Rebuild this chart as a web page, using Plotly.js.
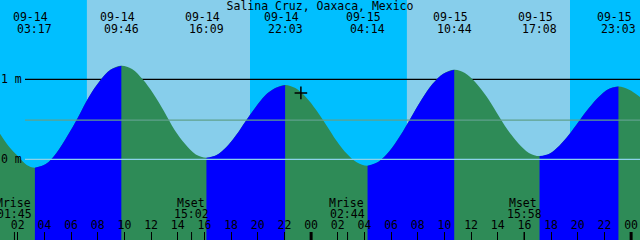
<!DOCTYPE html>
<html>
<head>
<meta charset="utf-8">
<script src="https://cdn.plot.ly/plotly-3.0.1.min.js"></script>
<style>
  html, body { margin: 0; padding: 0; background: #00BFFF; }
  #chart { width: 640px; height: 240px; }
</style>
</head>
<body>
<div id="chart"></div>
<script>
// ---------------- data ----------------
const stationName = "Salina Cruz, Oaxaca, Mexico";

const windowStart = "2024-09-14 00:40";
const windowEnd   = "2024-09-16 00:40";

// high / low tide events (labelled along the top)
const extremeTimes   = ["2024-09-14 03:17", "2024-09-14 09:46", "2024-09-14 16:09", "2024-09-14 22:03",
                        "2024-09-15 04:14", "2024-09-15 10:44", "2024-09-15 17:08", "2024-09-15 23:03"];
const extremeHeights = [-0.105, 1.17, 0.02, 0.93, -0.08, 1.12, 0.04, 0.91];

// tide curve readings (metres)
const curveTimes = [
  "2024-09-14 00:40", "2024-09-14 01:20", "2024-09-14 02:00", "2024-09-14 02:40", "2024-09-14 03:17",
  "2024-09-14 04:06", "2024-09-14 04:54", "2024-09-14 05:43", "2024-09-14 06:32",
  "2024-09-14 07:20", "2024-09-14 08:09", "2024-09-14 08:57", "2024-09-14 09:46",
  "2024-09-14 10:34", "2024-09-14 11:22", "2024-09-14 12:10", "2024-09-14 12:58",
  "2024-09-14 13:45", "2024-09-14 14:33", "2024-09-14 15:21", "2024-09-14 16:09",
  "2024-09-14 16:53", "2024-09-14 17:38", "2024-09-14 18:22", "2024-09-14 19:06",
  "2024-09-14 19:50", "2024-09-14 20:34", "2024-09-14 21:19", "2024-09-14 22:03",
  "2024-09-14 22:49", "2024-09-14 23:36", "2024-09-15 00:22", "2024-09-15 01:08",
  "2024-09-15 01:55", "2024-09-15 02:41", "2024-09-15 03:27", "2024-09-15 04:14",
  "2024-09-15 05:03", "2024-09-15 05:52", "2024-09-15 06:40", "2024-09-15 07:29",
  "2024-09-15 08:18", "2024-09-15 09:06", "2024-09-15 09:55", "2024-09-15 10:44",
  "2024-09-15 11:32", "2024-09-15 12:20", "2024-09-15 13:08", "2024-09-15 13:56",
  "2024-09-15 14:44", "2024-09-15 15:32", "2024-09-15 16:20", "2024-09-15 17:08",
  "2024-09-15 17:52", "2024-09-15 18:37", "2024-09-15 19:21", "2024-09-15 20:06",
  "2024-09-15 20:50", "2024-09-15 21:34", "2024-09-15 22:19", "2024-09-15 23:03",
  "2024-09-15 23:51", "2024-09-16 00:40"
];
const curveHeights = [
  0.32, 0.16, 0.04, -0.07, -0.105,
  -0.06, 0.08, 0.29, 0.53,
  0.78, 0.98, 1.12, 1.17,
  1.13, 1.00, 0.82, 0.60,
  0.37, 0.19, 0.06, 0.02,
  0.05, 0.15, 0.30, 0.48,
  0.65, 0.80, 0.89, 0.93,
  0.89, 0.78, 0.62, 0.43,
  0.23, 0.07, -0.04, -0.08,
  -0.03, 0.10, 0.29, 0.52,
  0.75, 0.94, 1.07, 1.12,
  1.08, 0.96, 0.79, 0.58,
  0.37, 0.20, 0.08, 0.04,
  0.07, 0.17, 0.31, 0.48,
  0.64, 0.78, 0.88, 0.91,
  0.87, 0.78
];

// daylight
const sunriseTimes = ["2024-09-14 07:11", "2024-09-15 07:11"];
const sunsetTimes  = ["2024-09-14 19:25", "2024-09-15 19:25"];

// moon events
const moonEventNames = ["Mrise", "Mset", "Mrise", "Mset"];
const moonEventTimes = ["2024-09-14 01:45", "2024-09-14 15:02", "2024-09-15 02:44", "2024-09-15 15:58"];

const midnightTimes = ["2024-09-15 00:00", "2024-09-16 00:00"];

const levelValues = [1, 0];
const levelLabels = ["1 m", "0 m"];
const meanLevel = 0.49;

const nowTime = "2024-09-14 23:14";
const nowHeight = 0.83;

// ---------------- styles ----------------
const FONT = "DejaVu Sans Mono";
const FS = 11.5;
const C_NIGHT = "#00BFFF", C_DAY = "#87CEEB", C_RISE = "#0000FF", C_FALL = "#2E8B57";
const H = 240;
const yRange = [-1.009, 1.991];
const yBase = -1.6;

const traces = [];
// green fill under full curve
traces.push({x: [curveTimes[0], curveTimes[curveTimes.length - 1]], y: [yBase, yBase],
  mode: "lines", line: {width: 0}, hoverinfo: "skip", showlegend: false});
traces.push({x: curveTimes, y: curveHeights, mode: "lines", line: {shape: "spline", width: 0, color: C_FALL},
  fill: "tonexty", fillcolor: C_FALL, hoverinfo: "skip", showlegend: false});

// blue fill for rising segments
for (let i = 0; i < extremeTimes.length - 1; i++) {
  if (extremeHeights[i + 1] > extremeHeights[i]) {
    const t0 = extremeTimes[i], t1 = extremeTimes[i + 1];
    const xs = [], ys = [];
    curveTimes.forEach((t, k) => { if (t >= t0 && t <= t1) { xs.push(t); ys.push(curveHeights[k]); } });
    traces.push({x: [t0, t1], y: [yBase, yBase], mode: "lines", line: {width: 0}, hoverinfo: "skip", showlegend: false});
    traces.push({x: xs, y: ys, mode: "lines", line: {shape: "spline", width: 0, color: C_RISE},
      fill: "tonexty", fillcolor: C_RISE, hoverinfo: "skip", showlegend: false});
  }
}
// current-time marker
traces.push({x: [nowTime], y: [nowHeight], mode: "markers",
  marker: {symbol: "cross-thin", size: 9, color: "#000", line: {color: "#000", width: 1.5}},
  hoverinfo: "skip", showlegend: false});

const shapes = [];
sunriseTimes.forEach((t, i) => {
  shapes.push({type: "rect", xref: "x", yref: "paper", x0: t, x1: sunsetTimes[i], y0: 0, y1: 1,
    fillcolor: C_DAY, line: {width: 0}, layer: "below"});
});
shapes.push({type: "line", xref: "paper", yref: "y", x0: 25 / 640, x1: 1, y0: levelValues[0], y1: levelValues[0],
  line: {color: "#000", width: 1.2}, layer: "below"});
shapes.push({type: "line", xref: "paper", yref: "y", x0: 25 / 640, x1: 1, y0: meanLevel, y1: meanLevel,
  line: {color: "#5FA08C", width: 1.2}, layer: "above"});
shapes.push({type: "line", xref: "paper", yref: "y", x0: 25 / 640, x1: 1, y0: levelValues[1], y1: levelValues[1],
  line: {color: "#8CD2EA", width: 1.2}, layer: "above"});
midnightTimes.forEach(t => {
  shapes.push({type: "line", xref: "x", yref: "paper", x0: t, x1: t, y0: 0, y1: 8 / H,
    line: {color: "#000", width: 3}, layer: "above"});
});
moonEventTimes.forEach(t => {
  shapes.push({type: "line", xref: "x", yref: "paper", x0: t, x1: t, y0: 0, y1: 8 / H,
    line: {color: "#000", width: 1}, layer: "above"});
});

const annotations = [];
const txt = (x, xref, yPix, text, extra) => Object.assign({
  x: x, xref: xref, y: 1 - yPix / H, yref: "paper", text: text, showarrow: false,
  xanchor: "center", yanchor: "middle", borderpad: 0,
  font: {family: FONT, size: FS, color: "#000"}}, extra || {});
extremeTimes.forEach(t => {
  annotations.push(txt(t, "x", 16.7, t.slice(5, 10), {xshift: -4}));
  annotations.push(txt(t, "x", 29.2, t.slice(11, 16)));
});
moonEventTimes.forEach((t, i) => {
  annotations.push(txt(t, "x", 202.5, moonEventNames[i], {xshift: -1}));
  annotations.push(txt(t, "x", 213.8, t.slice(11, 16)));
});
levelValues.forEach((v, i) => {
  annotations.push({x: 0, xref: "paper", y: v, yref: "y", text: levelLabels[i], showarrow: false,
    xanchor: "left", yanchor: "middle", borderpad: 0, xshift: 0,
    font: {family: FONT, size: FS, color: "#000"}});
});

const layout = {
  width: 640, height: 240,
  margin: {l: 0, r: 0, t: 0, b: 0, pad: 0},
  paper_bgcolor: C_NIGHT, plot_bgcolor: C_NIGHT,
  title: {text: stationName, x: 0.5, xanchor: "center", y: 1 - 6 / H, yanchor: "middle", yref: "container",
    font: {family: FONT, size: FS, color: "#000"}},
  xaxis: {type: "date", range: [windowStart, windowEnd], showgrid: false, zeroline: false, showline: false,
    tick0: "2024-09-14 00:00", dtick: 7200000, tickformat: "%H",
    ticks: "inside", ticklen: 8, tickwidth: 1, tickcolor: "#000",
    ticklabelposition: "inside", ticklabelstandoff: 0,
    tickfont: {family: FONT, size: FS, color: "#000"}},
  yaxis: {range: yRange, visible: false, showgrid: false, zeroline: false},
  shapes: shapes,
  annotations: annotations,
  showlegend: false
};

Plotly.newPlot("chart", traces, layout, {displayModeBar: false, staticPlot: true});
</script>
</body>
</html>
